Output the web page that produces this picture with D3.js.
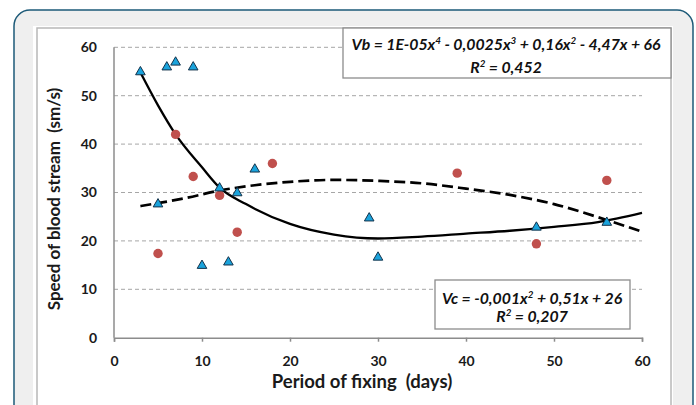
<!DOCTYPE html>
<html><head><meta charset="utf-8">
<script src="https://cdn.jsdelivr.net/npm/d3@7"></script>
<style>
html,body{margin:0;padding:0;background:#fff;}
svg{display:block;font-family:Lato,"Open Sans",sans-serif;}
text{white-space:pre;}
</style></head><body>
<svg id="c" width="696" height="405"></svg>
<script>
// Series: blue triangles (Vb) and red circles (Vc)
const vbX = [3, 6, 7, 9, 5, 10, 12, 13, 14, 16, 29, 30, 48, 56];
const vbY = [55, 56, 57, 56, 27.7, 15, 31, 15.7, 30, 34.9, 24.8, 16.7, 22.9, 23.9];
const vcX = [7, 9, 18, 12, 5, 14, 39, 56, 48];
const vcY = [42, 33.3, 36, 29.4, 17.4, 21.8, 34, 32.5, 19.4];
// Trendlines
const trendBX = [3, 5, 7, 10, 12, 15, 20, 25, 30, 35, 40, 45, 50, 55, 60];
const trendBY = [54.8, 48, 42, 35.2, 31, 27.6, 23.5, 21.3, 20.5, 20.9, 21.5, 22.1, 22.9, 23.9, 25.8];
const trendCX = [3, 8, 12, 16, 20, 25, 30, 35, 40, 45, 50, 55, 60];
const trendCY = [27.2, 28.8, 30.4, 31.5, 32.2, 32.6, 32.4, 31.9, 30.8, 29.5, 27.6, 24.9, 21.9];
const xTicks = [0, 10, 20, 30, 40, 50, 60];
const yTicks = [0, 10, 20, 30, 40, 50, 60];
const eqB = ["Vb = 1E-05x", "4", " - 0,0025x", "3", " + 0,16x", "2", " - 4,47x + 66"];
const r2B = "0,452";
const eqC = ["Vc = -0,001x", "2", " + 0,51x + 26"];
const r2C = "0,207";

const svg = d3.select("#c");
// outer panel
svg.append("rect").attr("x",14).attr("y",10).attr("width",679).attr("height",420)
  .attr("rx",16).attr("fill","#efefef").attr("stroke","#1d5a78").attr("stroke-width",1.5);
svg.append("rect").attr("x",33).attr("y",26).attr("width",640).attr("height",400).attr("fill","#fff");
svg.append("rect").attr("x",37).attr("y",28).attr("width",634).attr("height",400)
  .attr("fill","none").attr("stroke","#b8b8b8").attr("stroke-width",1.5);

const x = d3.scaleLinear().domain([0,60]).range([114,642]);
const y = d3.scaleLinear().domain([0,60]).range([337.7,47.3]);

// grid
svg.append("g").selectAll("line").data(yTicks.filter(d=>d>0)).join("line")
  .attr("x1",x(0)).attr("x2",x(60)).attr("y1",d=>y(d)).attr("y2",d=>y(d))
  .attr("stroke","#a6a6a6").attr("stroke-width",1).attr("stroke-dasharray","4,3");

// axes
const ya = svg.append("g").attr("transform",`translate(${x(0)},0)`)
  .call(d3.axisLeft(y).tickValues(yTicks).tickSize(3).tickPadding(14));
const xa = svg.append("g").attr("transform",`translate(0,${y(0)})`)
  .call(d3.axisBottom(x).tickValues(xTicks).tickSize(4).tickPadding(14));
[ya,xa].forEach(a=>{
  a.selectAll("path,line").attr("stroke","#8c8c8c").attr("stroke-width",1.5);
  a.selectAll("text").attr("font-family","Lato,sans-serif").attr("font-weight","bold")
   .attr("font-size",14).attr("fill","#1a1a1a");
});
ya.select(".domain").attr("d",`M0,${y(60)}V${y(0)}`);
ya.selectAll(".tick line").attr("x2",0);

// trendlines
const line = d3.line().x(d=>x(d[0])).y(d=>y(d[1])).curve(d3.curveMonotoneX);
svg.append("path").attr("d",line(trendCX.map((v,i)=>[v,trendCY[i]])))
  .attr("fill","none").attr("stroke","#000").attr("stroke-width",2.7).attr("stroke-dasharray","11,5");
svg.append("path").attr("d",line(trendBX.map((v,i)=>[v,trendBY[i]])))
  .attr("fill","none").attr("stroke","#000").attr("stroke-width",2.3);

// points
svg.append("g").selectAll("circle").data(vcX.map((v,i)=>[v,vcY[i]])).join("circle")
  .attr("cx",d=>x(d[0])).attr("cy",d=>y(d[1])).attr("r",4.7).attr("fill","#c0504d");
const tri = d3.symbol().type(d3.symbolTriangle).size(40);
svg.append("g").selectAll("path").data(vbX.map((v,i)=>[v,vbY[i]])).join("path")
  .attr("d",tri).attr("transform",d=>`translate(${x(d[0])},${y(d[1])+0.5})`)
  .attr("fill","#1aa3dc").attr("stroke","#14324a").attr("stroke-width",1);

// axis titles
svg.append("text").attr("x",362).attr("y",388).attr("text-anchor","middle")
  .attr("font-weight","bold").attr("font-size",18.5).attr("fill","#1a1a1a")
  .text("Period of fixing  (days)");
svg.append("text").attr("transform","translate(60,199) rotate(-90)").attr("text-anchor","middle")
  .attr("font-weight","bold").attr("font-size",17).attr("fill","#1a1a1a")
  .text("Speed of blood stream  (sm/s)");

// equation boxes
function eqBox(bx,by,bw,bh,parts,r2,cx,y1,y2,fs){
  svg.append("rect").attr("x",bx).attr("y",by).attr("width",bw).attr("height",bh)
    .attr("fill","#fff").attr("stroke","#8c8c8c").attr("stroke-width",1.3);
  const t = svg.append("text").attr("x",cx).attr("y",y1).attr("text-anchor","middle")
    .attr("font-weight","bold").attr("font-style","italic").attr("font-size",fs).attr("fill","#111");
  parts.forEach((p,i)=>{
    if(i%2===1) t.append("tspan").attr("font-size",fs*0.62).attr("dy",-6).text(p);
    else t.append("tspan").attr("dy",i===0?0:6).text(p);
  });
  const t2 = svg.append("text").attr("x",cx).attr("y",y2).attr("text-anchor","middle")
    .attr("font-weight","bold").attr("font-style","italic").attr("font-size",fs).attr("fill","#111");
  t2.append("tspan").text("R");
  t2.append("tspan").attr("font-size",fs*0.62).attr("dy",-6).text("2");
  t2.append("tspan").attr("dy",6).text(" = " + r2);
}
eqBox(343,28,328,50,eqB,r2B,506,49.5,73,15.8);
eqBox(435,280,195,49,eqC,r2C,532,303.5,322,15.8);
</script>
</body></html>
